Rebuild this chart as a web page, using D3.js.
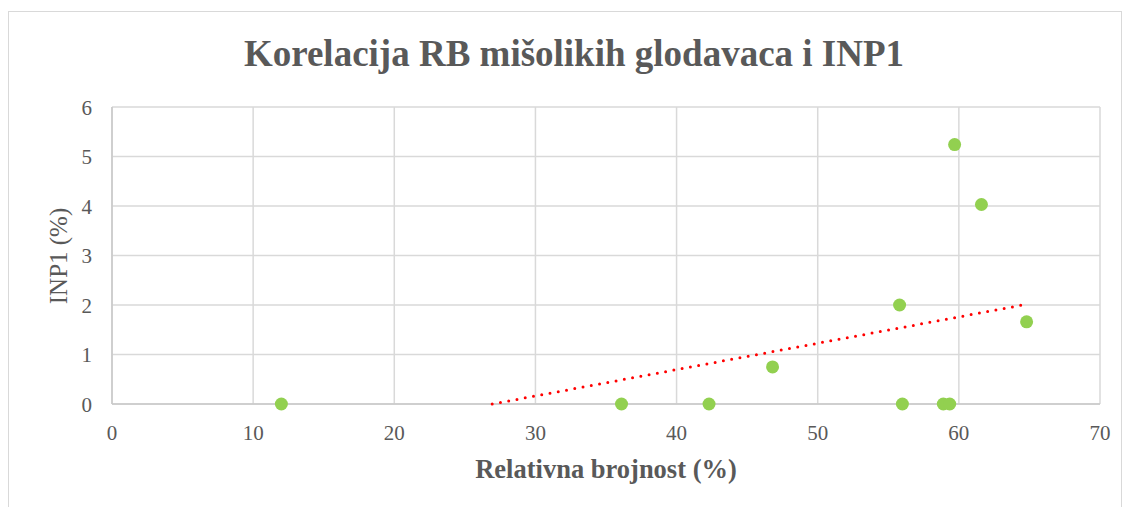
<!DOCTYPE html>
<html>
<head>
<meta charset="utf-8">
<script src="https://cdn.jsdelivr.net/npm/d3@7"></script>
<style>
  body { margin: 0; background: #fff; }
</style>
</head>
<body>
<div id="chart"></div>
<script>
// data
var relBrojnost = [12.0, 36.1, 42.3, 46.8, 55.8, 56.0, 58.9, 59.35, 59.7, 61.6, 64.8];
var inp1 = [0, 0, 0, 0.75, 2.0, 0, 0, 0, 5.24, 4.03, 1.66];
var xTicks = [0, 10, 20, 30, 40, 50, 60, 70];
var yTicks = [0, 1, 2, 3, 4, 5, 6];

var width = 1130, height = 507;
var margin = { top: 107, right: 30, bottom: 103, left: 112 };
var font = "'Liberation Serif', 'Times New Roman', serif";
var grey = '#595959';

var svg = d3.select('#chart').append('svg')
  .attr('width', width).attr('height', height);

// chart border
svg.append('rect')
  .attr('x', 8.5).attr('y', 11.5)
  .attr('width', 1113).attr('height', 520)
  .attr('fill', 'none').attr('stroke', '#d9d9d9').attr('stroke-width', 1);

var x = d3.scaleLinear().domain([0, 70]).range([margin.left, width - margin.right]);
var y = d3.scaleLinear().domain([0, 6]).range([height - margin.bottom, margin.top]);

// grid
svg.append('g').selectAll('line').data(xTicks).join('line')
  .attr('x1', function (d) { return x(d); }).attr('x2', function (d) { return x(d); })
  .attr('y1', y(0)).attr('y2', y(6))
  .attr('stroke', '#d9d9d9').attr('stroke-width', 1.5);
svg.append('g').selectAll('line').data(yTicks).join('line')
  .attr('x1', x(0)).attr('x2', x(70))
  .attr('y1', function (d) { return y(d); }).attr('y2', function (d) { return y(d); })
  .attr('stroke', '#d9d9d9').attr('stroke-width', 1.5);

// axis lines
svg.append('line').attr('x1', x(0)).attr('x2', x(70)).attr('y1', y(0)).attr('y2', y(0))
  .attr('stroke', '#c8c8c8').attr('stroke-width', 1.5);
svg.append('line').attr('x1', x(0)).attr('x2', x(0)).attr('y1', y(0)).attr('y2', y(6))
  .attr('stroke', '#c8c8c8').attr('stroke-width', 1.5);

// tick labels
svg.append('g').selectAll('text').data(xTicks).join('text')
  .attr('x', function (d) { return x(d); }).attr('y', 440)
  .attr('text-anchor', 'middle').attr('font-size', '21px')
  .attr('font-family', font).attr('fill', grey)
  .text(function (d) { return d; });
svg.append('g').selectAll('text').data(yTicks).join('text')
  .attr('x', 92).attr('y', function (d) { return y(d) + 7.5; })
  .attr('text-anchor', 'end').attr('font-size', '21px')
  .attr('font-family', font).attr('fill', grey)
  .text(function (d) { return d; });

// linear trendline (least squares), clipped at y = 0
var n = relBrojnost.length;
var mx = d3.mean(relBrojnost), my = d3.mean(inp1);
var sxy = 0, sxx = 0;
for (var i = 0; i < n; i++) {
  sxy += (relBrojnost[i] - mx) * (inp1[i] - my);
  sxx += (relBrojnost[i] - mx) * (relBrojnost[i] - mx);
}
var slope = sxy / sxx, icpt = my - slope * mx;
var x0 = Math.max(d3.min(relBrojnost), -icpt / slope), x1 = d3.max(relBrojnost);

svg.append('line')
  .attr('x1', x(x0)).attr('y1', y(slope * x0 + icpt))
  .attr('x2', x(x1)).attr('y2', y(slope * x1 + icpt))
  .attr('stroke', '#ff0000').attr('stroke-width', 3)
  .attr('stroke-linecap', 'round').attr('stroke-dasharray', '0 8.4');

// points
svg.append('g').selectAll('circle').data(relBrojnost).join('circle')
  .attr('cx', function (d) { return x(d); })
  .attr('cy', function (d, i) { return y(inp1[i]); })
  .attr('r', 6.5).attr('fill', '#92d050');

// titles
svg.append('text').attr('x', 574).attr('y', 66)
  .attr('text-anchor', 'middle').attr('font-size', '37px').attr('font-weight', 'bold')
  .attr('font-family', font).attr('fill', grey)
  .text('Korelacija RB mišolikih glodavaca i INP1');
svg.append('text').attr('x', 606).attr('y', 478)
  .attr('text-anchor', 'middle').attr('font-size', '26.5px').attr('font-weight', 'bold')
  .attr('font-family', font).attr('fill', grey)
  .text('Relativna brojnost (%)');
svg.append('text').attr('transform', 'translate(67,256) rotate(-90)')
  .attr('text-anchor', 'middle').attr('font-size', '25px')
  .attr('font-family', font).attr('fill', grey)
  .text('INP1 (%)');
</script>
</body>
</html>
